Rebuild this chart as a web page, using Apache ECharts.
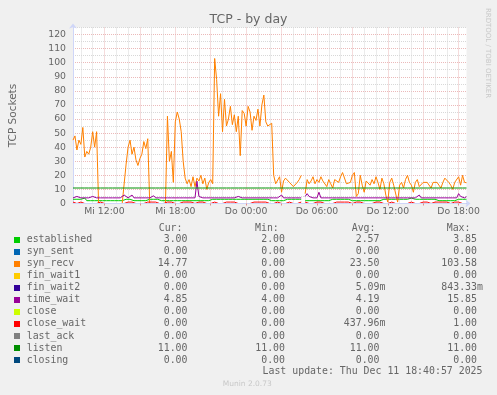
<!DOCTYPE html>
<html><head><meta charset="utf-8">
<script src="https://cdn.jsdelivr.net/npm/echarts@6/dist/echarts.min.js"></script>
<style>html,body{margin:0;padding:0;background:#f0f0f0}#c{width:497px;height:395px}</style>
</head><body><div id="c"></div>
<script>
// ---- time categories (10-minute steps, Wed 09:20 -> Thu 18:40) ----
const firstDayName = 'Mi';
const secondDayName = 'Do';
const startMinuteOfDay = 9 * 60 + 20;
const stepMinutes = 10;
const pointCount = 201;
const categories = [];
for (let i = 0; i < pointCount; i++) {
  const m = startMinuteOfDay + i * stepMinutes;
  const day = m < 1440 ? firstDayName : secondDayName;
  const mm = m % 1440;
  categories.push(day + ' ' + String(Math.floor(mm / 60)).padStart(2, '0') + ':' + String(mm % 60).padStart(2, '0'));
}

// ---- y tick labels ----
const yTickLabels = [0,10,20,30,40,50,60,70,80,90,100,110,120];

// ---- series ----
const seriesNames = ['established','syn_sent','syn_recv','fin_wait1','fin_wait2','time_wait','close','close_wait','last_ack','listen','closing'];
const seriesColors = ['#00CC00','#0066B3','#FF8000','#FFCC00','#330099','#990099','#CCFF00','#FF0000','#808080','#008F00','#00487D'];

const establishedValues = [
3,3,3,3,3,3.85,3.85,2,2,2,
2,2,2,2,2,2,2,2,2,2,
2,2,2,2,2,2,3,3,3,3,
3.85,2,2,2,2,2,2,2,2,3,
3,3,3,3,3,2,2,2,2,2,
2,2,2,2,2,2,2,2,2,2,
2,2,2,2,2,2,2,2,2,2,
3,3,3,3,3,3,3,3,3,3,
3,3,3,3,3,3,3,3,3,3,
3,3,3,3,3,3,3,3,3,3,
2,2,2,2,2,2,2,2,3,3,
3,3,3,3,3,3,3,null,2,2,
2,2,2,2,2,2,2,2,2,2,
2,2,3,3,3,3,3,3,3,3,
3,3,2,2,2,2,2,2,2,2,
2,2,2,2,2,2,2,2,3,3,
3,3,3,3,3,3,3,3,3,3,
3,3,3.85,3,3,3,3,3,3,3,
3,3,3,3,3,2,2,2,2,2,
2,2,2,2,2,3,3,3,3,3,
3];

const synSentValues = [
0,0,0,0,0,0,0,0,0,0, 0,0,0,0,0,0,0,0,0,0, 0,0,0,0,0,0,0,0,0,0, 0,0,0,0,0,0,0,0,0,0,
0,0,0,0,0,0,0,0,0,0, 0,0,0,0,0,0,0,0,0,0, 0,0,0,0,0,0,0,0,0,0, 0,0,0,0,0,0,0,0,0,0,
0,0,0,0,0,0,0,0,0,0, 0,0,0,0,0,0,0,0,0,0, 0,0,0,0,0,0,0,0,0,0, 0,0,0,0,0,0,0,0,0,0,
0,0,0,0,0,0,0,0,0,0, 0,0,0,0,0,0,0,0,0,0, 0,0,0,0,0,0,0,0,0,0, 0,0,0,0,0,0,0,0,0,0,
0,0,0,0,0,0,0,0,0,0, 0,0,0,0,0,0,0,0,0,0, 0,0,0,0,0,0,0,0,0,0, 0,0,0,0,0,0,0,0,0,0,
0];

const synRecvValues = [
45,48,38,45,42,54,33,37,35,40,
51,40,51,0,0,0,0,0,0,0,
0,0,0,0,0,0,0,28,40,45,
35,40,31,27,32,35,44,39,46,0,
0,0,0,0,0,0,0,0,62,30,
37,15,58,65,60,51,30,18,14,17,
12,19,12,18,16,20,14,18,10,15,
17,14,103,88,62,78,51,74,55,60,
69,56,63,51,62,34,66,64,55,69,
65,52,62,59,67,55,70,77,58,55,
56,57,20,14,15,19,8,16,18,17,
15,14,12,13,15,17,20,null,7,17,
14,16,19,14,17,15,19,16,15,12,
17,14,11,17,16,15,19,22,21,14,
13,15,20,22,5,7,20,13,8,16,
15,13,17,14,19,15,10,18,14,6,
1,15,18,13,14,1,13,15,11,17,
20,15,13,8,15,17,12,11,15,14,
15,16,11,15,16,15,13,11,15,18,
19,15,13,10,15,16,19,13,20,15,
14.77];

const finWait1Values = [
0,0,0,0,0,0,0,0,0,0, 0,0,0,0,0,0,0,0,0,0, 0,0,0,0,0,0,0,0,0,0, 0,0,0,0,0,0,0,0,0,0,
0,0,0,0,0,0,0,0,0,0, 0,0,0,0,0,0,0,0,0,0, 0,0,0,0,0,0,0,0,0,0, 0,0,0,0,0,0,0,0,0,0,
0,0,0,0,0,0,0,0,0,0, 0,0,0,0,0,0,0,0,0,0, 0,0,0,0,0,0,0,0,0,0, 0,0,0,0,0,0,0,0,0,0,
0,0,0,0,0,0,0,0,0,0, 0,0,0,0,0,0,0,0,0,0, 0,0,0,0,0,0,0,0,0,0, 0,0,0,0,0,0,0,0,0,0,
0,0,0,0,0,0,0,0,0,0, 0,0,0,0,0,0,0,0,0,0, 0,0,0,0,0,0,0,0,0,0, 0,0,0,0,0,0,0,0,0,0,
0];

const finWait2Values = [
0,0,0,0,0,0,0,0,0,0, 0,0,0,0,0,0,0,0,0,0, 0,0,0,0,0,0,0,0,0,0, 0,0,0,0,0,0,0,0,0,0,
0,0,0,0,0,0.84,0,0,0,0, 0,0,0,0,0,0,0,0,0,0, 0,0,0,0,0,0,0,0,0,0, 0,0,0,0,0,0,0,0,0,0,
0,0,0,0,0,0,0,0,0,0, 0,0,0,0,0,0,0,0,0,0, 0,0,0,0,0,0,0,0,0,0, 0,0,0,0,0,0,0,0,0,0,
0,0,0,0,0,0,0,0,0,0.18, 0,0,0,0,0,0,0,0,0,0, 0,0,0,0,0,0,0,0,0,0, 0,0,0,0,0,0,0,0,0,0,
0,0,0,0,0,0,0,0,0,0, 0,0,0,0,0,0,0,0,0,0, 0,0,0,0,0,0,0,0,0,0, 0,0,0,0,0,0,0,0,0,0,
0];

const timeWaitValues = [
4,4,5,4,4,4,4,4,4,4,
5,4,4,4,4,4,4,4,4,4,
4,4,4,4,4,4,6,5,4,5,
6,4,4,4,4,4,4,4,4,4,
4,5.5,4,4,4,4,4,4,4,4,
4,4,4,4,4,4,4,4,4,4,
4,4,4,15.85,5,4,4,4,4,4,
4,4,4,4,4,4,4,4,4,4,
4,4,4,4,5,4,4,4,4,4,
4,4,4,4,4,4,4,4,4,4,
4,4,4,4,4,4,6,4,4,4,
4,4,4,4,4,4,4,null,5,7,
5,4,4,4,4,8,4,4,4,4,
4,4,4,4,4,4,4,4,4,4,
4,5,4,4,4,4,4,4,4,4,
4,4,4,4,4,4,4,4,4,4,
4,4,4,4,4,4,4,4,4,4,
4,4,4,4,4,4,6,4,4,4,
4,4,4,4,4,4,4,4,4,4,
4,4,4,4,4,4,7,5,4,4,
4.85];

const closeValues = [
0,0,0,0,0,0,0,0,0,0, 0,0,0,0,0,0,0,0,0,0, 0,0,0,0,0,0,0,0,0,0, 0,0,0,0,0,0,0,0,0,0,
0,0,0,0,0,0,0,0,0,0, 0,0,0,0,0,0,0,0,0,0, 0,0,0,0,0,0,0,0,0,0, 0,0,0,0,0,0,0,0,0,0,
0,0,0,0,0,0,0,0,0,0, 0,0,0,0,0,0,0,0,0,0, 0,0,0,0,0,0,0,0,0,0, 0,0,0,0,0,0,0,0,0,0,
0,0,0,0,0,0,0,0,0,0, 0,0,0,0,0,0,0,0,0,0, 0,0,0,0,0,0,0,0,0,0, 0,0,0,0,0,0,0,0,0,0,
0,0,0,0,0,0,0,0,0,0, 0,0,0,0,0,0,0,0,0,0, 0,0,0,0,0,0,0,0,0,0, 0,0,0,0,0,0,0,0,0,0,
0];

const closeWaitValues = [
1,1,0,1,1,1,0,0,0,0,
0,0,0,1,1,1,0,0,0,0,
0,0,0,0,0,0,0,1,1,1,
1,0,0,0,0,0,0,0,1,1,
1,1,1,1,0,0,0,0,1,1,
1,0,0,0,0,0,1,1,1,1,
1,0,0,0,1,1,1,0,0,0,
0,1,1,1,0,0,0,0,1,1,
1,1,1,1,0,0,0,0,0,0,
0,1,1,1,1,1,1,1,1,0,
0,0,0,1,1,1,0,0,0,1,
1,1,0,0,0,0,1,null,1,0,
0,0,0,1,1,1,1,0,0,0,
0,0,0,1,1,1,1,1,1,1,
1,0,0,0,1,1,1,0,0,0,
0,0,0,1,1,1,1,0,0,0,
0,1,1,1,0,0,0,0,0,0,
0,1,1,1,0,0,0,0,1,1,
1,0,0,0,1,1,1,1,1,1,
1,0,0,0,1,1,1,0,0,0,
0];

const lastAckValues = [
0,0,0,0,0,0,0,0,0,0, 0,0,0,0,0,0,0,0,0,0, 0,0,0,0,0,0,0,0,0,0, 0,0,0,0,0,0,0,0,0,0,
0,0,0,0,0,0,0,0,0,0, 0,0,0,0,0,0,0,0,0,0, 0,0,0,0,0,0,0,0,0,0, 0,0,0,0,0,0,0,0,0,0,
0,0,0,0,0,0,0,0,0,0, 0,0,0,0,0,0,0,0,0,0, 0,0,0,0,0,0,0,0,0,0, 0,0,0,0,0,0,0,0,0,0,
0,0,0,0,0,0,0,0,0,0, 0,0,0,0,0,0,0,0,0,0, 0,0,0,0,0,0,0,0,0,0, 0,0,0,0,0,0,0,0,0,0,
0,0,0,0,0,0,0,0,0,0, 0,0,0,0,0,0,0,0,0,0, 0,0,0,0,0,0,0,0,0,0, 0,0,0,0,0,0,0,0,0,0,
0];

const listenValues = [
11,11,11,11,11,11,11,11,11,11, 11,11,11,11,11,11,11,11,11,11, 11,11,11,11,11,11,11,11,11,11, 11,11,11,11,11,11,11,11,11,11,
11,11,11,11,11,11,11,11,11,11, 11,11,11,11,11,11,11,11,11,11, 11,11,11,11,11,11,11,11,11,11, 11,11,11,11,11,11,11,11,11,11,
11,11,11,11,11,11,11,11,11,11, 11,11,11,11,11,11,11,11,11,11, 11,11,11,11,11,11,11,11,11,11, 11,11,11,11,11,11,11,11,11,11,
11,11,11,11,11,11,11,11,11,11, 11,11,11,11,11,11,11,11,11,11, 11,11,11,11,11,11,11,11,11,11, 11,11,11,11,11,11,11,11,11,11,
11,11,11,11,11,11,11,11,11,11, 11,11,11,11,11,11,11,11,11,11, 11,11,11,11,11,11,11,11,11,11, 11,11,11,11,11,11,11,11,11,11,
11];

const closingValues = [
0,0,0,0,0,0,0,0,0,0, 0,0,0,0,0,0,0,0,0,0, 0,0,0,0,0,0,0,0,0,0, 0,0,0,0,0,0,0,0,0,0,
0,0,0,0,0,0,0,0,0,0, 0,0,0,0,0,0,0,0,0,0, 0,0,0,0,0,0,0,0,0,0, 0,0,0,0,0,0,0,0,0,0,
0,0,0,0,0,0,0,0,0,0, 0,0,0,0,0,0,0,0,0,0, 0,0,0,0,0,0,0,0,0,0, 0,0,0,0,0,0,0,0,0,0,
0,0,0,0,0,0,0,0,0,0, 0,0,0,0,0,0,0,0,0,0, 0,0,0,0,0,0,0,0,0,0, 0,0,0,0,0,0,0,0,0,0,
0,0,0,0,0,0,0,0,0,0, 0,0,0,0,0,0,0,0,0,0, 0,0,0,0,0,0,0,0,0,0, 0,0,0,0,0,0,0,0,0,0,
0];

const seriesValues = [establishedValues, synSentValues, synRecvValues, finWait1Values, finWait2Values,
  timeWaitValues, closeValues, closeWaitValues, lastAckValues, listenValues, closingValues];

// ---- legend statistics ----
const curStats = ['3.00','0.00','14.77','0.00','0.00','4.85','0.00','0.00','0.00','11.00','0.00'];
const minStats = ['2.00','0.00','0.00','0.00','0.00','4.00','0.00','0.00','0.00','11.00','0.00'];
const avgStats = ['2.57','0.00','23.50','0.00','5.09m','4.19','0.00','437.96m','0.00','11.00','0.00'];
const maxStats = ['3.85','0.00','103.58','0.00','843.33m','15.85','0.00','1.00','0.00','11.00','0.00'];
const statHeaders = ['Cur:','Min:','Avg:','Max:'];
const lastUpdateText = 'Last update: Thu Dec 11 18:40:57 2025';
const titleText = 'TCP - by day';
const yAxisTitle = 'TCP Sockets';
const watermarkText = 'RRDTOOL / TOBI OETIKER';
const versionText = 'Munin 2.0.73';

// ---- styling ----
const FONT_COLOR = '#666666';
const AXIS_COLOR = '#CFD6F8';
const MINOR_GRID = '#d8d8d8';
const MAJOR_GRID = '#ebb9b9';
const MONO = '"DejaVu Sans Mono", monospace';
const SANS = '"DejaVu Sans", sans-serif';

function hourMultiple(v, n) {
  const hh = parseInt(v.slice(3, 5), 10);
  return v.slice(6, 8) === '00' && hh % n === 0;
}

const chart = echarts.init(document.getElementById('c'), null, {renderer: 'canvas'});

const graphics = [];
const rowY0 = 239.7, rowStep = 12.03, textX = 26.7, cw = 5.96;
const colRight = [187.5, 285, 379.5, 477];
const headerLeft = [158.7, 255, 351.7, 446.7];
const statCols = [curStats, minStats, avgStats, maxStats];
function txt(x, y, s, align, font, color) {
  return {type: 'text', x: x, y: y, silent: true,
    style: {text: s, font: font, fill: color, textAlign: align, align: align, textVerticalAlign: 'middle', verticalAlign: 'middle'}};
}
const monoFont = '9.9px ' + MONO;
for (let c = 0; c < 4; c++) graphics.push(txt(headerLeft[c], 228, statHeaders[c], 'left', monoFont, FONT_COLOR));
for (let k = 0; k < seriesNames.length; k++) {
  const y = rowY0 + k * rowStep;
  graphics.push({type: 'rect', silent: true, shape: {x: 14, y: Math.round(y) - 3, width: 6, height: 6}, style: {fill: seriesColors[k]}});
  graphics.push(txt(textX, y, seriesNames[k], 'left', monoFont, FONT_COLOR));
  for (let c = 0; c < 4; c++) {
    const s = statCols[c][k];
    const hasUnit = /[a-zA-Z]$/.test(s);
    graphics.push(txt(hasUnit ? colRight[c] + cw : colRight[c], y, s, 'right', monoFont, FONT_COLOR));
  }
}
graphics.push(txt(482.5, 371, lastUpdateText, 'right', monoFont, FONT_COLOR));
graphics.push(txt(222.7, 384, versionText, 'left', '7.5px ' + SANS, '#c8c8c8'));
graphics.push({type: 'text', x: 488, y: 53, rotation: -Math.PI / 2, silent: true,
  style: {text: watermarkText, font: '7px ' + SANS, fill: '#c8c8c8', textAlign: 'center', align: 'center', textVerticalAlign: 'middle', verticalAlign: 'middle'}});

const option = {
  animation: false,
  backgroundColor: '#f0f0f0',
  title: {text: titleText, left: 'center', top: 13, padding: 0,
    textStyle: {color: FONT_COLOR, fontSize: 12.5, fontWeight: 'normal', fontFamily: SANS}},
  grid: {left: 66.5, right: 30.5, top: 27.5, bottom: 191.5, show: true, backgroundColor: '#ffffff', borderWidth: 0, containLabel: false},
  xAxis: [
    {type: 'category', data: categories, boundaryGap: false, position: 'bottom', z: 10,
      axisLine: {show: true, lineStyle: {color: AXIS_COLOR, width: 1}, symbol: ['none', 'arrow'], symbolSize: [6, 5], symbolOffset: [0, 4]},
      axisTick: {show: true, interval: (i, v) => hourMultiple(v, 3), length: 2, lineStyle: {color: '#e08a8a'}},
      axisLabel: {interval: (i, v) => hourMultiple(v, 6), color: FONT_COLOR, fontSize: 9.3, fontFamily: SANS, margin: 4},
      splitLine: {show: false}},
    {type: 'category', data: categories, boundaryGap: false, position: 'top', z: 0,
      axisLine: {show: false}, axisTick: {show: false}, axisLabel: {show: false},
      splitLine: {show: true, interval: (i, v) => v.slice(6, 8) === '00',
        lineStyle: {color: [MINOR_GRID, MINOR_GRID, MAJOR_GRID], type: [1, 1], width: 1}}}
  ],
  yAxis: {type: 'value', min: 0, max: 125, interval: 5,
    axisLine: {show: true, lineStyle: {color: AXIS_COLOR, width: 1}, symbol: ['none', 'arrow'], symbolSize: [6, 5], symbolOffset: [0, 4]},
    axisTick: {show: false},
    axisLabel: {formatter: v => yTickLabels.indexOf(v) >= 0 ? String(v) : '', color: FONT_COLOR, fontSize: 9.3, fontFamily: SANS, margin: 7},
    splitLine: {show: true, lineStyle: {color: [MAJOR_GRID, MINOR_GRID], type: [1, 1], width: 1}},
    name: yAxisTitle, nameLocation: 'middle', nameGap: 54,
    nameTextStyle: {color: FONT_COLOR, fontSize: 10.5, fontFamily: SANS}},
  series: seriesNames.map((name, k) => ({
    name: name, type: 'line', data: seriesValues[k], xAxisIndex: 0,
    symbol: 'none', showSymbol: false, connectNulls: false, silent: true,
    lineStyle: {color: seriesColors[k], width: 1}, itemStyle: {color: seriesColors[k]},
    emphasis: {disabled: true}, z: 2
  })),
  graphic: graphics
};
chart.setOption(option);
</script>
</body></html>
